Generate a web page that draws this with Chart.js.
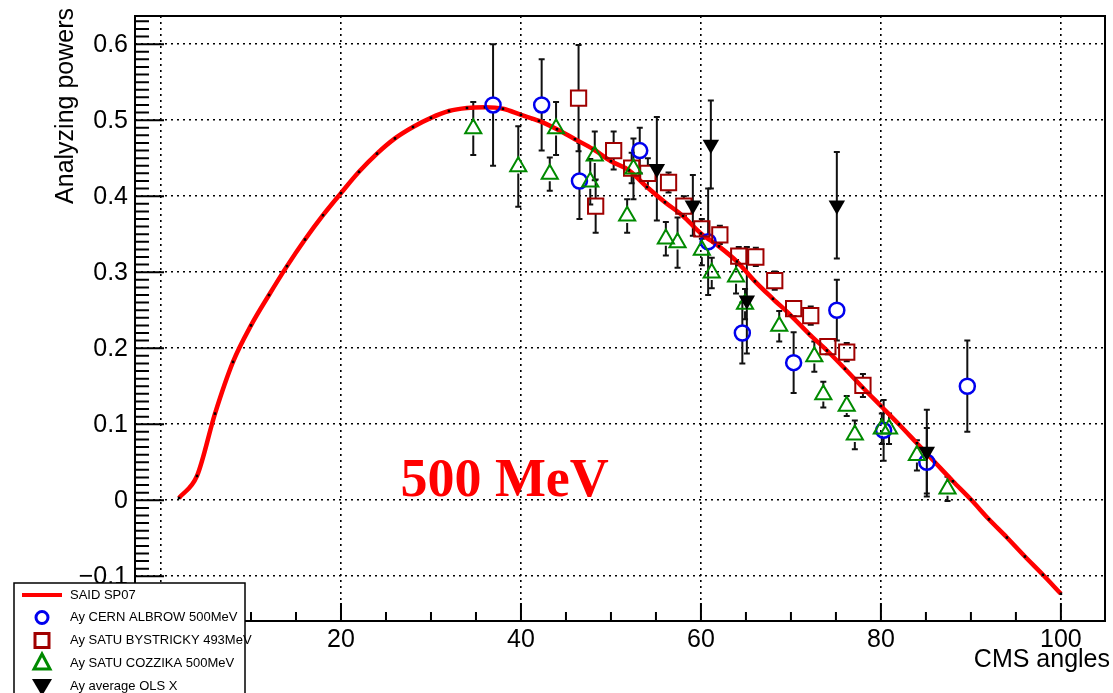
<!DOCTYPE html>
<html>
<head>
<meta charset="utf-8">
<script src="https://cdn.jsdelivr.net/npm/chart.js@4.4.0/dist/chart.umd.min.js"></script>
<style>
html, body { margin: 0; padding: 0; background: #fff; overflow: hidden; }
</style>
</head>
<body>
<canvas id="chart" width="1113" height="693"></canvas>
<script>
// SAID SP07 curve (points every 2 degrees)
var saidX = [2,4,6,8,10,12,14,16,18,20,22,24,26,28,30,32,34,36,38,40,42,44,46,48,50,
             52,54,56,58,60,62,64,66,68,70,72,74,76,78,80,82,84,86,88,90,92,94,96,98,100];
var saidY = [0.003,0.032,0.114,0.182,0.230,0.270,0.308,0.343,0.375,0.404,0.432,0.456,0.476,0.491,0.503,0.512,0.516,0.517,0.515,0.507,0.499,0.488,0.475,0.462,0.446,
             0.434,0.412,0.392,0.374,0.351,0.334,0.314,0.288,0.265,0.243,0.219,0.197,0.173,0.148,0.124,0.100,0.075,0.050,0.025,0.001,-0.025,-0.049,-0.074,-0.098,-0.123];

// Ay CERN ALBROW 500MeV
var albrowX   = [36.9, 42.3, 46.5, 53.2, 60.8, 64.6, 70.3, 75.1, 80.3, 85.1, 89.6];
var albrowY   = [0.520, 0.520, 0.420, 0.460, 0.340, 0.220, 0.181, 0.250, 0.092, 0.050, 0.150];
var albrowErr = [0.08, 0.06, 0.05, 0.03, 0.07, 0.04, 0.04, 0.04, 0.04, 0.045, 0.06];

// Ay SATU BYSTRICKY 493MeV
var bystrickyX   = [46.4, 48.3, 50.3, 52.3, 54.1, 56.4, 58.1, 60.1, 62.1, 64.2, 66.1, 68.2, 70.3, 72.2, 74.1, 76.2, 78.0];
var bystrickyY   = [0.529, 0.387, 0.460, 0.437, 0.430, 0.418, 0.387, 0.357, 0.349, 0.321, 0.320, 0.289, 0.252, 0.243, 0.202, 0.195, 0.151];
var bystrickyErr = [0.07, 0.035, 0.025, 0.02, 0.02, 0.013, 0.013, 0.013, 0.012, 0.012, 0.012, 0.012, 0.01, 0.012, 0.01, 0.012, 0.015];

// Ay SATU COZZIKA 500MeV
var cozzikaX   = [34.7, 39.7, 43.2, 43.9, 47.7, 48.2, 51.8, 52.5, 56.1, 57.4, 60.1, 61.2, 63.9, 64.9, 68.7, 72.6, 73.6, 76.2, 77.1, 80.1, 80.9, 84.0, 87.4];
var cozzikaY   = [0.489, 0.439, 0.429, 0.489, 0.419, 0.453, 0.374, 0.436, 0.344, 0.339, 0.329, 0.299, 0.294, 0.258, 0.229, 0.189, 0.139, 0.124, 0.086, 0.094, 0.094, 0.059, 0.015];
var cozzikaErr = [0.035, 0.053, 0.022, 0.035, 0.03, 0.032, 0.022, 0.04, 0.022, 0.033, 0.02, 0.02, 0.022, 0.02, 0.02, 0.02, 0.017, 0.013, 0.019, 0.02, 0.02, 0.02, 0.016];

// Ay average OLS X
var olsX   = [55.1, 59.1, 61.1, 65.1, 75.1, 85.1];
var olsY   = [0.436, 0.388, 0.468, 0.263, 0.388, 0.064];
var olsErr = [0.068, 0.04, 0.058, 0.07, 0.07, 0.055];

var xTicks = [0, 20, 40, 60, 80, 100];
var xTickLabels = ['0', '20', '40', '60', '80', '100'];
var yTicks = [-0.1, 0, 0.1, 0.2, 0.3, 0.4, 0.5, 0.6];
var yTickLabels = ['\u22120.1', '0', '0.1', '0.2', '0.3', '0.4', '0.5', '0.6'];

var legendNames = ['SAID SP07', 'Ay CERN ALBROW 500MeV', 'Ay SATU BYSTRICKY 493MeV', 'Ay SATU COZZIKA 500MeV', 'Ay average OLS X'];

function pts(xs, ys) {
    return xs.map(function(x, i) { return {x: x, y: ys[i]}; });
}

var FONT = '"Liberation Sans", Arial, Helvetica, sans-serif';
Chart.defaults.font.family = FONT;
Chart.defaults.color = '#000';

var blue = '#0000ee', darkred = '#a00000', green = '#008a00';

var rootStyle = {
    id: 'rootStyle',
    beforeDatasetsDraw: function(chart) {
        // error bars
        var ctx = chart.ctx, xs = chart.scales.x, ys = chart.scales.y, a = chart.chartArea;
        ctx.save();
        ctx.beginPath();
        ctx.rect(a.left, a.top, a.right - a.left, a.bottom - a.top);
        ctx.clip();
        ctx.strokeStyle = '#111';
        ctx.lineWidth = 2;
        chart.data.datasets.forEach(function(ds) {
            if (!ds.errors) return;
            ds.data.forEach(function(p, i) {
                var e = ds.errors[i];
                var px = xs.getPixelForValue(p.x);
                var py = ys.getPixelForValue(p.y);
                var y1 = ys.getPixelForValue(p.y + e);
                var y2 = ys.getPixelForValue(p.y - e);
                var g = ds.gap;
                ctx.beginPath();
                if (py - g > y1) { ctx.moveTo(px, y1); ctx.lineTo(px, py - g); }
                if (py + g < y2) { ctx.moveTo(px, py + g); ctx.lineTo(px, y2); }
                ctx.moveTo(px - 3, y1); ctx.lineTo(px + 3, y1);
                ctx.moveTo(px - 3, y2); ctx.lineTo(px + 3, y2);
                ctx.stroke();
            });
        });
        ctx.restore();
    },
    afterDraw: function(chart) {
        var ctx = chart.ctx, xs = chart.scales.x, ys = chart.scales.y, a = chart.chartArea;
        ctx.save();
        ctx.strokeStyle = '#000';
        ctx.lineWidth = 2;
        // inward ticks, left axis
        ctx.beginPath();
        for (var k = -15; k <= 63; k++) {
            var y = ys.getPixelForValue(k / 100);
            if (y < a.top || y > a.bottom) continue;
            var len = (k % 10 === 0) ? 29 : 14;
            ctx.moveTo(a.left, y); ctx.lineTo(a.left + len, y);
        }
        // inward ticks, bottom axis
        for (var m = 0; m <= 104; m += 5) {
            var x = xs.getPixelForValue(m);
            var l2 = (m % 20 === 0) ? 18 : 9;
            ctx.moveTo(x, a.bottom); ctx.lineTo(x, a.bottom - l2);
        }
        ctx.stroke();
        // frame
        ctx.lineWidth = 2;
        ctx.strokeRect(a.left, a.top, a.right - a.left, a.bottom - a.top);

        // tick labels
        ctx.fillStyle = '#000';
        ctx.font = '25px ' + FONT;
        ctx.textAlign = 'right';
        ctx.textBaseline = 'middle';
        yTicks.forEach(function(v, i) {
            ctx.fillText(yTickLabels[i], a.left - 7, ys.getPixelForValue(v) + 1);
        });
        ctx.textAlign = 'center';
        xTicks.forEach(function(v, i) {
            ctx.fillText(xTickLabels[i], xs.getPixelForValue(v), 640);
        });

        // axis titles
        ctx.font = '25px ' + FONT;
        ctx.save();
        ctx.translate(66, 8);
        ctx.rotate(-Math.PI / 2);
        ctx.textAlign = 'right';
        ctx.textBaseline = 'middle';
        ctx.fillText('Analyzing powers', 0, 0);
        ctx.restore();
        ctx.textAlign = 'right';
        ctx.textBaseline = 'middle';
        ctx.fillText('CMS angles', 1110, 660);

        // energy label
        ctx.fillStyle = '#ff0000';
        ctx.font = 'bold 54px "Liberation Serif", "Times New Roman", serif';
        ctx.textAlign = 'left';
        ctx.textBaseline = 'alphabetic';
        ctx.fillText('500 MeV', xs.getPixelForValue(26.6), ys.getPixelForValue(0.005));

        // legend box
        var lx = 14, ly = 583;
        ctx.fillStyle = '#fff';
        ctx.fillRect(lx, ly, 231, 120);
        ctx.strokeStyle = '#000';
        ctx.lineWidth = 1.5;
        ctx.strokeRect(lx, ly, 231, 120);
        var rows = [595, 617.5, 640.5, 663, 686];
        var mx = 42;
        // line
        ctx.strokeStyle = '#ff0000';
        ctx.lineWidth = 4;
        ctx.beginPath(); ctx.moveTo(22, rows[0]); ctx.lineTo(62, rows[0]); ctx.stroke();
        // circle
        ctx.strokeStyle = blue; ctx.lineWidth = 3;
        ctx.beginPath(); ctx.arc(mx, rows[1], 6, 0, Math.PI * 2); ctx.stroke();
        // square
        ctx.strokeStyle = darkred;
        ctx.strokeRect(mx - 7, rows[2] - 7, 14, 14);
        // triangle up
        ctx.strokeStyle = green;
        ctx.beginPath();
        ctx.moveTo(mx, rows[3] - 9); ctx.lineTo(mx + 8, rows[3] + 6); ctx.lineTo(mx - 8, rows[3] + 6); ctx.closePath();
        ctx.stroke();
        // triangle down filled
        ctx.fillStyle = '#000';
        ctx.beginPath();
        ctx.moveTo(mx - 10, rows[4] - 7); ctx.lineTo(mx + 10, rows[4] - 7); ctx.lineTo(mx, rows[4] + 10); ctx.closePath();
        ctx.fill();
        ctx.fillStyle = '#000';
        ctx.font = '13px ' + FONT;
        ctx.textAlign = 'left';
        ctx.textBaseline = 'middle';
        legendNames.forEach(function(t, i) { ctx.fillText(t, 70, rows[i]); });
        ctx.restore();
    }
};

var ctx = document.getElementById('chart');

var myChart = new Chart(ctx, {
    type: 'scatter',
    data: {
        datasets: [
            {
                label: legendNames[4],
                data: pts(olsX, olsY),
                errors: olsErr, gap: 0,
                pointStyle: 'triangle', rotation: 180,
                pointRadius: 9.5, pointBorderWidth: 0,
                pointBackgroundColor: '#000', pointBorderColor: '#000'
            },
            {
                label: legendNames[3],
                data: pts(cozzikaX, cozzikaY),
                errors: cozzikaErr, gap: 7,
                pointStyle: 'triangle',
                pointRadius: 9.3, pointBorderWidth: 2,
                pointBackgroundColor: 'rgba(0,0,0,0)', pointBorderColor: green
            },
            {
                label: legendNames[2],
                data: pts(bystrickyX, bystrickyY),
                errors: bystrickyErr, gap: 7.5,
                pointStyle: 'rect',
                pointRadius: 10.8, pointBorderWidth: 2,
                pointBackgroundColor: 'rgba(0,0,0,0)', pointBorderColor: darkred
            },
            {
                label: legendNames[1],
                data: pts(albrowX, albrowY),
                errors: albrowErr, gap: 7.5,
                pointStyle: 'circle',
                pointRadius: 7.5, pointBorderWidth: 2.5,
                pointBackgroundColor: 'rgba(0,0,0,0)', pointBorderColor: blue
            },
            {
                label: legendNames[0],
                data: pts(saidX, saidY),
                showLine: true,
                borderColor: '#ff0000', borderWidth: 4.5,
                cubicInterpolationMode: 'monotone',
                pointStyle: 'rect', pointRadius: 1.8, pointBorderWidth: 0,
                pointBackgroundColor: '#000'
            }
        ]
    },
    options: {
        responsive: false,
        animation: false,
        events: [],
        layout: { autoPadding: false, padding: { top: 16, right: 8, left: 0, bottom: 0 } },
        plugins: {
            legend: { display: false },
            tooltip: { enabled: false }
        },
        scales: {
            x: {
                type: 'linear',
                min: -2.89, max: 104.9,
                afterFit: function(s) { s.height = 72; },
                afterBuildTicks: function(s) { s.ticks = xTicks.map(function(v) { return {value: v}; }); },
                ticks: { display: false },
                grid: { color: '#000', lineWidth: 1.6, drawTicks: false },
                border: { display: false, dash: [2, 4] }
            },
            y: {
                type: 'linear',
                min: -0.1588, max: 0.637,
                afterFit: function(s) { s.width = 135; },
                afterBuildTicks: function(s) { s.ticks = yTicks.map(function(v) { return {value: v}; }); },
                ticks: { display: false },
                grid: { color: '#000', lineWidth: 1.6, drawTicks: false },
                border: { display: false, dash: [2, 4] }
            }
        }
    },
    plugins: [rootStyle]
});
</script>
</body>
</html>
